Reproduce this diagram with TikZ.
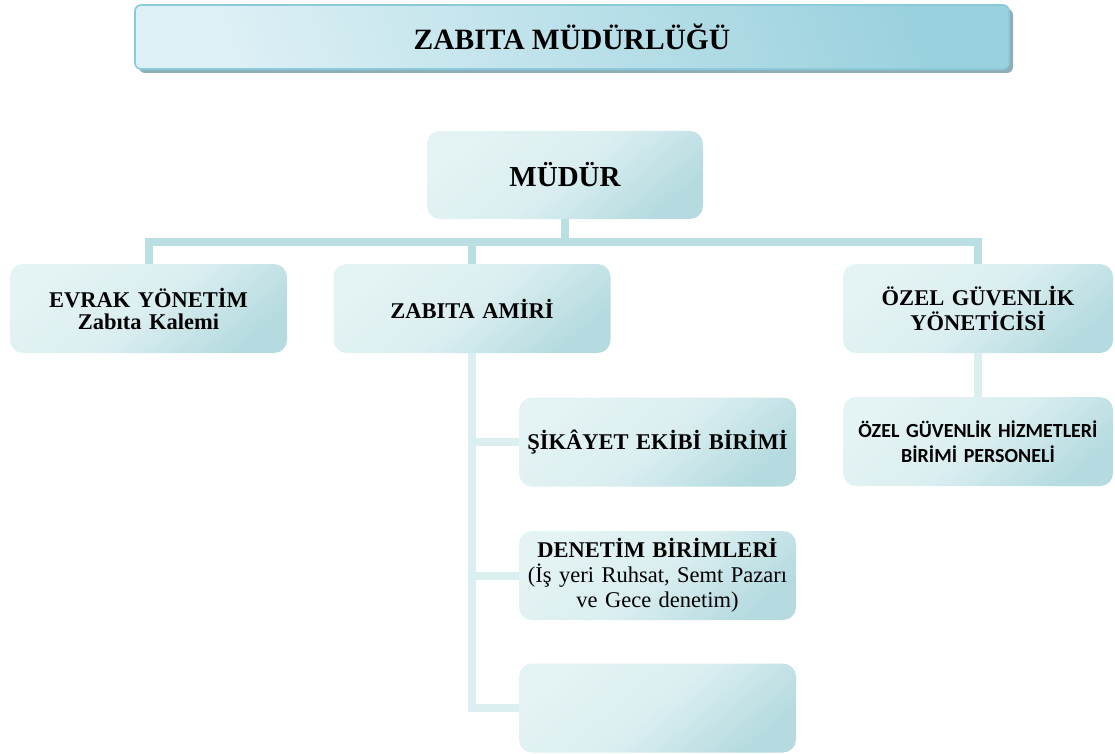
\documentclass[tikz,border=0pt]{standalone}
\usepackage{fontspec}
\setmainfont{Liberation Serif}
\newfontfamily\calibrifont{Carlito}
\usepackage{tikz}
\usetikzlibrary{positioning, calc, shadows}
\definecolor{boxlight}{HTML}{E4F3F4}
\definecolor{boxdark}{HTML}{B5DBE0}
\definecolor{barblue}{HTML}{B9DFE3}
\definecolor{barpale}{HTML}{DCEFF0}
\definecolor{titlelight}{HTML}{DDF0F5}
\definecolor{titledark}{HTML}{9AD1DE}
\definecolor{titleedge}{HTML}{8ACADA}
\definecolor{titleshade}{HTML}{8EAEB8}

\begin{document}
\begin{tikzpicture}[x=1pt, y=-1pt, font=\bfseries]
    \tikzstyle{unit} = [rectangle, rounded corners=13pt, inner sep=2pt, minimum width=277pt, minimum height=89pt,
      text width=272pt, align=center, top color=boxlight, bottom color=boxdark,
      middle color=boxlight!80!boxdark, shading angle=40,
      font=\fontsize{22.5}{25}\selectfont\bfseries]
    \tikzstyle{bar} = [line width=8pt, draw=barblue]
    \tikzstyle{palebar} = [line width=8pt, draw=barpale]

    \useasboundingbox (0,0) rectangle (1115,754);

    % title band with its shadow
    \node (title) [rectangle, rounded corners=6pt, minimum width=874pt, minimum height=64pt,
      draw=titleedge, line width=1.6pt, top color=titledark, bottom color=titlelight, shading angle=-70,
      drop shadow={shadow xshift=4pt, shadow yshift=-4pt, fill=titleshade, opacity=1},
      font=\fontsize{29.5}{30}\selectfont\bfseries] at (572, 37) {ZABITA MÜDÜRLÜĞÜ};

    % first row
    \node (mudur)  [unit, minimum width=276pt, minimum height=88pt, font=\fontsize{29}{30}\selectfont\bfseries]
      at (565, 175) {MÜDÜR};
    \node (evrak)  [unit] at (148.5, 308.5) {EVRAK YÖNETİM\\[-3pt]Zabıta Kalemi};
    \node (amiri)  [unit] at (472, 308.5) {ZABITA AMİRİ};
    \node (ozel)   [unit, minimum width=270pt, text width=264pt] at (978, 308.5) {ÖZEL GÜVENLİK\\YÖNETİCİSİ};

    % under the zabita amiri
    \node (sikayet) [unit] at (657.5, 442) {ŞİKÂYET EKİBİ BİRİMİ};
    \node (denetim) [unit] at (657.5, 575.5)
      {DENETİM BİRİMLERİ\\\mdseries(İş yeri Ruhsat, Semt Pazarı\\ve Gece denetim)};
    \node (bos)     [unit] at (657.5, 708) {};

    % under the ozel guvenlik
    \node (hizmet) [unit, minimum width=270pt, text width=266pt, font=\calibrifont\fontsize{20}{25}\selectfont\bfseries]
      at (978, 441.5) {ÖZEL GÜVENLİK HİZMETLERİ\\BİRİMİ PERSONELİ};

    % top connectors
    \coordinate (fork) at ($(mudur.south)+(0,23)$);
    \draw [bar] (mudur.south) -- (fork);
    \draw [bar] (evrak.north) -- (evrak.north |- fork) -- (ozel.north |- fork) -- (ozel.north);
    \draw [bar] (amiri.north) -- (amiri.north |- fork);

    % lower connectors
    \draw [palebar] (amiri.south) |- (bos.west);
    \draw [palebar] (amiri.south |- sikayet.west) -- (sikayet.west);
    \draw [palebar] (amiri.south |- denetim.west) -- (denetim.west);
    \draw [palebar] (ozel.south) -- (hizmet.north);
\end{tikzpicture}
\end{document}
